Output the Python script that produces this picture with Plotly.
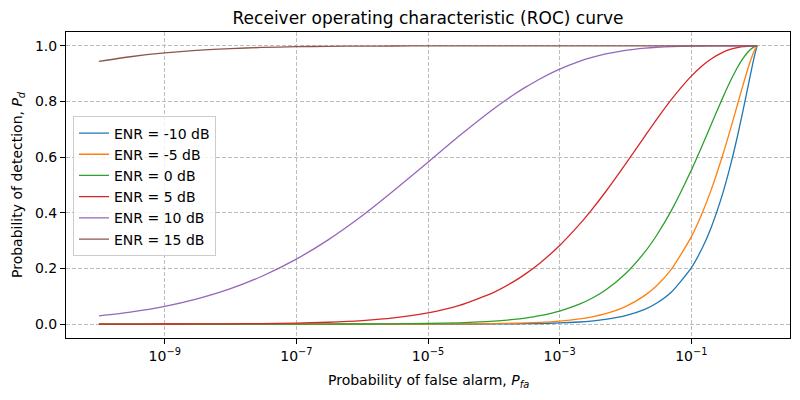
import plotly.graph_objects as go

# Probability of false alarm (x values)
pfa = [1e-10, 3e-10, 1e-9, 3e-9, 1e-8, 3e-8, 1e-7, 3e-7, 1e-6, 3e-6,
       1e-5, 3e-5, 1e-4, 2e-4, 3e-4, 5e-4, 1e-3, 2e-3, 3e-3, 5e-3,
       1e-2, 2e-2, 3e-2, 5e-2, 0.1, 0.15, 0.2, 0.3, 0.4, 0.5,
       0.6, 0.7, 0.8, 0.9, 1.0]

labels = ["ENR = -10 dB", "ENR = -5 dB", "ENR = 0 dB",
          "ENR = 5 dB", "ENR = 10 dB", "ENR = 15 dB"]

pd_m10 = [0.0, 0.0, 0.0, 0.0, 0.0, 0.0, 0.0, 0.0, 0.0, 0.0,
          0.0001, 0.0002, 0.0005, 0.0010, 0.0014, 0.0022, 0.0041, 0.0075, 0.0107, 0.0166,
          0.0301, 0.0540, 0.0758, 0.1155, 0.2021, 0.2780, 0.3467, 0.4692, 0.5769, 0.6726,
          0.7582, 0.8344, 0.9013, 0.9581, 1.0]
pd_m5 = [0.0, 0.0, 0.0, 0.0, 0.0, 0.0, 0.0, 0.0, 0.0, 0.0001,
         0.0003, 0.0007, 0.0017, 0.0030, 0.0042, 0.0063, 0.0109, 0.0186, 0.0254, 0.0375,
         0.0629, 0.1041, 0.1387, 0.1977, 0.3134, 0.4048, 0.4815, 0.6068, 0.7061, 0.7868,
         0.8528, 0.9065, 0.9492, 0.9811, 1.0]
pd_0 = [0.0, 0.0, 0.0, 0.0, 0.0, 0.0, 0.0001, 0.0002, 0.0004, 0.0009,
        0.0022, 0.0047, 0.0106, 0.0168, 0.0218, 0.0303, 0.0469, 0.0716, 0.0911, 0.1226,
        0.1809, 0.2611, 0.3203, 0.4087, 0.5527, 0.6473, 0.7166, 0.8132, 0.8772, 0.9214,
        0.9523, 0.9737, 0.9880, 0.9965, 1.0]
pd_5 = [0.0001, 0.0001, 0.0003, 0.0005, 0.0010, 0.0019, 0.0036, 0.0066, 0.0126, 0.0222,
        0.0401, 0.0671, 0.1143, 0.1527, 0.1796, 0.2189, 0.2826, 0.3583, 0.4079, 0.4757,
        0.5750, 0.6776, 0.7370, 0.8078, 0.8913, 0.9304, 0.9529, 0.9767, 0.9881, 0.9940,
        0.9972, 0.9988, 0.9996, 0.9999, 1.0]
pd_10 = [0.0295, 0.0429, 0.0635, 0.0895, 0.1271, 0.1721, 0.2336, 0.3019, 0.3893, 0.4789,
         0.5820, 0.6769, 0.7743, 0.8243, 0.8508, 0.8812, 0.9165, 0.9445, 0.9576, 0.9710,
         0.9841, 0.9922, 0.9952, 0.9977, 0.9993, 0.9997, 0.9999, 1.0, 1.0, 1.0,
         1.0, 1.0, 1.0, 1.0, 1.0]
pd_15 = [0.9443, 0.9610, 0.9747, 0.9837, 0.9904, 0.9944, 0.9971, 0.9985, 0.9993, 0.9997,
         0.9999, 1.0, 1.0, 1.0, 1.0, 1.0, 1.0, 1.0, 1.0, 1.0,
         1.0, 1.0, 1.0, 1.0, 1.0, 1.0, 1.0, 1.0, 1.0, 1.0,
         1.0, 1.0, 1.0, 1.0, 1.0]

series = [pd_m10, pd_m5, pd_0, pd_5, pd_10, pd_15]
colors = ["#1f77b4", "#ff7f0e", "#2ca02c", "#d62728", "#9467bd", "#8c564b"]

x_tickvals = [1e-9, 1e-7, 1e-5, 1e-3, 1e-1]
x_ticktext = ["10<sup>\u22129</sup>", "10<sup>\u22127</sup>", "10<sup>\u22125</sup>",
              "10<sup>\u22123</sup>", "10<sup>\u22121</sup>"]
y_tickvals = [0.0, 0.2, 0.4, 0.6, 0.8, 1.0]

title_text = "Receiver operating characteristic (ROC) curve"
xlabel = "Probability of false alarm, <i>P</i><sub><i>fa</i></sub>"
ylabel = "Probability of detection, <i>P</i><sub><i>d</i></sub>"

fig = go.Figure()
for lab, ys, c in zip(labels, series, colors):
    fig.add_trace(go.Scatter(x=pfa, y=ys, mode="lines", name=lab,
                             line=dict(color=c, width=1.3, shape="spline", smoothing=0.6)))

font = "DejaVu Sans, Arial, sans-serif"
# page body adds an 8px offset; margins compensate for it
fig.update_layout(
    width=800, height=400,
    margin=dict(l=58, r=18, t=24, b=70),
    paper_bgcolor="white", plot_bgcolor="white",
    font=dict(family=font, size=14, color="black"),
    title=dict(text=title_text,
               x=0.5, xref="paper", xanchor="center",
               y=1 - 10 / 400, yanchor="middle",
               font=dict(size=17, family=font, color="black")),
    legend=dict(x=0.0097, y=0.724, xanchor="left", yanchor="top",
                bgcolor="rgba(255,255,255,0.8)", bordercolor="#cccccc", borderwidth=1,
                font=dict(size=14, family=font), itemwidth=30, tracegroupgap=0),
    showlegend=True,
    annotations=[
        dict(text=xlabel, xref="paper", yref="paper", x=0.5, y=0, yshift=-43,
             xanchor="center", yanchor="middle", showarrow=False,
             font=dict(size=14, family=font)),
        dict(text=ylabel, xref="paper", yref="paper", x=0, y=0.5, xshift=-48,
             xanchor="center", yanchor="middle", textangle=-90, showarrow=False,
             font=dict(size=14, family=font)),
    ],
)
fig.update_xaxes(
    type="log", range=[-10.5, 0.5], automargin=False,
    tickvals=x_tickvals, ticktext=x_ticktext,
    ticks="outside", ticklen=5, tickwidth=1, tickcolor="black",
    tickfont=dict(size=14, family=font),
    showline=True, linecolor="black", linewidth=1, mirror=True,
    showgrid=True, gridcolor="#bdbdbd", griddash="4px,2px", gridwidth=1,
    zeroline=False,
)
fig.update_yaxes(
    range=[-0.05, 1.05], automargin=False,
    tickvals=y_tickvals, tickformat=".1f",
    ticks="outside", ticklen=5, tickwidth=1, tickcolor="black",
    tickfont=dict(size=14, family=font),
    showline=True, linecolor="black", linewidth=1, mirror=True,
    showgrid=True, gridcolor="#bdbdbd", griddash="4px,2px", gridwidth=1,
    zeroline=False,
)

fig.write_html("out.html")
